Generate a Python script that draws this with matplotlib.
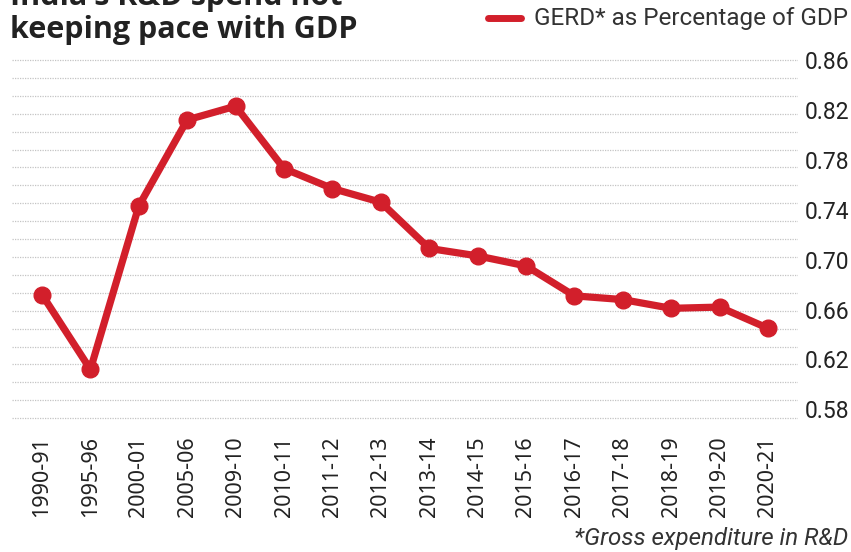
import matplotlib
matplotlib.use('Agg')
import matplotlib.pyplot as plt
import numpy as np

# data
years = ['1990-91', '1995-96', '2000-01', '2005-06', '2009-10', '2010-11',
         '2011-12', '2012-13', '2013-14', '2014-15', '2015-16', '2016-17',
         '2017-18', '2018-19', '2019-20', '2020-21']
gerd_pct = [0.672, 0.612, 0.743, 0.812, 0.823, 0.773, 0.757, 0.746,
            0.709, 0.703, 0.695, 0.671, 0.668, 0.661, 0.662, 0.645]
ytick_vals = [0.58, 0.62, 0.66, 0.70, 0.74, 0.78, 0.82, 0.86]

red = '#d21f2b'
W, H = 851, 552

fig = plt.figure(figsize=(W / 100, H / 100), dpi=100)
# axes in pixel terms: x 12..798, y 55..425
ax = fig.add_axes([12 / W, 1 - 425 / H, 786 / W, 370 / H])

x = np.arange(len(years))
ax.plot(x, gerd_pct, color=red, lw=5.2, marker='o', ms=12,
        solid_capstyle='round', solid_joinstyle='round', zorder=3)

ax.set_xlim(-0.62, 15.62)
ax.set_ylim(0.5675, 0.864)

# dotted decorative gridlines
for g in np.linspace(0.86, 0.573, 21):
    ax.axhline(g, color='#c4c4c4', lw=0.9, ls=(0, (1, 1)), zorder=1)

ax.set_xticks(x)
ax.set_xticklabels(years, rotation=90, fontsize=15.5, family='Noto Sans',
                   color='#222222')
ax.set_yticks(ytick_vals)
ax.set_yticklabels(['%.2f' % v for v in ytick_vals], fontsize=16.5,
                   family='Roboto', color='#222222')
ax.yaxis.tick_right()
ax.tick_params(axis='both', length=0)
ax.tick_params(axis='y', pad=5)
ax.tick_params(axis='x', pad=8)
for s in ax.spines.values():
    s.set_visible(False)

# title (first line is cut off at the top of the image)
fig.text(10 / W, 1 - 5 / H, "India's R&D spend not", fontsize=22,
         fontweight='bold', family='Open Sans', color='#222222', va='baseline')
fig.text(10 / W, 1 - 38 / H, 'keeping pace with GDP', fontsize=22,
         fontweight='bold', family='Open Sans', color='#222222', va='baseline')

# legend
fig.add_artist(plt.Line2D([488 / W, 521 / W], [1 - 18 / H, 1 - 18 / H],
                          color=red, lw=5, solid_capstyle='round'))
fig.text(848 / W, 1 - 18 / H, 'GERD* as Percentage of GDP', fontsize=17.5,
         family='Roboto', color='#333333', ha='right', va='center')

fig.text(848 / W, 1 - 538 / H, '*Gross expenditure in R&D', fontsize=17.4,
         style='italic', family='Roboto', color='#333333',
         ha='right', va='center')

fig.savefig('out.png', dpi=100, facecolor='white')
